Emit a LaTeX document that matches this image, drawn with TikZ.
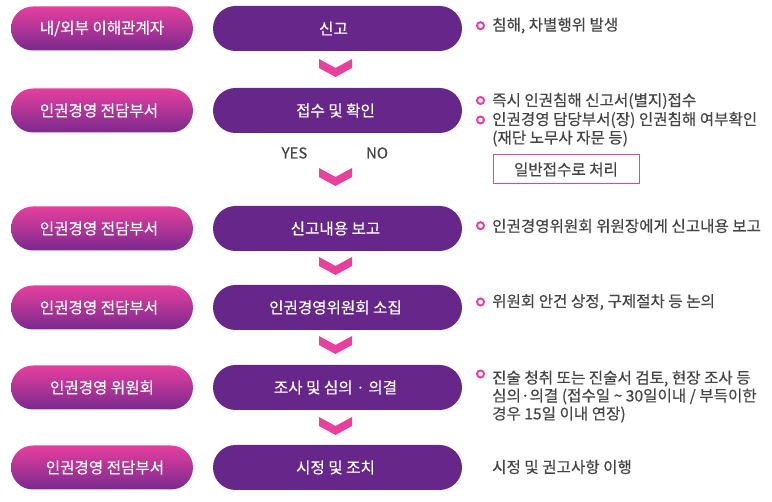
\documentclass[tikz,border=0pt]{standalone}
\usepackage{fontspec}
\setmainfont{Noto Sans CJK KR}[FakeBold=0.35]
\definecolor{pinkc}{HTML}{E8409F}
\definecolor{purpc}{HTML}{67278A}
\definecolor{gradtop}{HTML}{E63F9E}
\definecolor{gradbot}{HTML}{7A2A8E}
\definecolor{txt}{HTML}{444444}
\tikzset{
  leftpill/.style={minimum width=182pt, minimum height=44pt, rounded corners=22pt,
    top color=gradtop, bottom color=gradbot, text=white, font=\fontsize{15.6}{18}\selectfont, inner sep=0pt},
  rightpill/.style={minimum width=249pt, minimum height=45pt, rounded corners=22.5pt,
    fill=purpc, text=white, font=\fontsize{15.6}{18}\selectfont, inner sep=0pt},
  desc/.style={anchor=west, text=txt, font=\fontsize{15.6}{18}\selectfont, inner sep=0pt},
  bul/.style={draw=pinkc, line width=2pt, circle, minimum size=7pt, inner sep=0pt},
  yn/.style={text=txt, font=\fontsize{15}{18}\selectfont, inner sep=0pt},
  chev/.style={fill=pinkc, draw=none}
}
\newcommand{\chevat}[1]{\fill[chev] (#1) ++(-16.5,0) -- ++(16.5,9) -- ++(16.5,-9) -- ++(0,9) -- ++(-16.5,9) -- ++(-16.5,-9) -- cycle;}
\begin{document}
\begin{tikzpicture}[x=1pt,y=-1pt]
\useasboundingbox (0,0) rectangle (772,502);
% left pills
\node[leftpill] (l1) at (102,28.5) {내/외부 이해관계자};
\node[leftpill] (l2) at (102,110.5) {\hspace{-6pt}인권경영 전담부서};
\node[leftpill] (l3) at (102,228.5) {\hspace{-6pt}인권경영 전담부서};
\node[leftpill] (l4) at (102,307.5) {\hspace{-6pt}인권경영 전담부서};
\node[leftpill] (l5) at (102,387.5) {인권경영 위원회};
\node[leftpill] (l6) at (102,467.5) {\hspace{6pt}인권경영 전담부서};
% right pills
\node[rightpill] (r1) at (337.5,28.5) {\hspace{-8pt}신고};
\node[rightpill] (r2) at (337.5,110.5) {\hspace{-4pt}접수 및 확인};
\node[rightpill] (r3) at (337.5,228.5) {\hspace{-4pt}신고내용 보고};
\node[rightpill] (r4) at (337.5,307.5) {\hspace{-4pt}인권경영위원회 소집};
\node[rightpill] (r5) at (337.5,387.5) {\hspace{-4pt}조사 및 심의 · 의결};
\node[rightpill] (r6) at (337.5,467.5) {\hspace{-4pt}시정 및 조치};
% chevrons
\coordinate (c1) at (335.5,59);
\coordinate (c2) at (335.5,168);
\coordinate (c3) at (335.5,257);
\coordinate (c4) at (335.5,336);
\coordinate (c5) at (335.5,417);
\chevat{c1}
\chevat{c2}
\chevat{c3}
\chevat{c4}
\chevat{c5}
% yes / no
\node[yn] (yes) at (294.5,153) {YES};
\node[yn] (no) at (377,153) {NO};
% descriptions
\node[bul] (b1) at (480.5,25.7) {};
\node[desc] (d1) at (492,25.5) {침해, 차별행위 발생};
\node[bul] (b2) at (480.5,100.5) {};
\node[desc] (d2) at (492,101) {즉시 인권침해 신고서(별지)접수};
\node[bul] (b3) at (480.5,120) {};
\node[desc] (d3) at (492,120) {인권경영 담당부서(장) 인권침해 여부확인};
\node[desc] (d3b) at (492,138.5) {(재단 노무사 자문 등)};
\node[draw=pinkc, line width=1pt, minimum width=146pt, minimum height=29pt, inner sep=0pt,
  text=txt, font=\fontsize{15.6}{18}\selectfont] (box) at (566,169.5) {일반접수로 처리};
\node[bul] (b4) at (480.5,225.7) {};
\node[desc] (d4) at (492,226) {인권경영위원회 위원장에게 신고내용 보고};
\node[bul] (b5) at (480.5,302) {};
\node[desc] (d5) at (492,302) {위원회 안건 상정, 구제절차 등 논의};
\node[bul] (b6) at (480.5,374) {};
\node[desc] (d6) at (492,378.5) {진술 청취 또는 진술서 검토, 현장 조사 등};
\node[desc] (d6b) at (492,396.5) {심의·의결 (접수일 \textasciitilde{} 30일이내 / 부득이한};
\node[desc] (d6c) at (492,414.5) {경우 15일 이내 연장)};
\node[desc] (d7) at (492,467) {시정 및 권고사항 이행};
\end{tikzpicture}
\end{document}
